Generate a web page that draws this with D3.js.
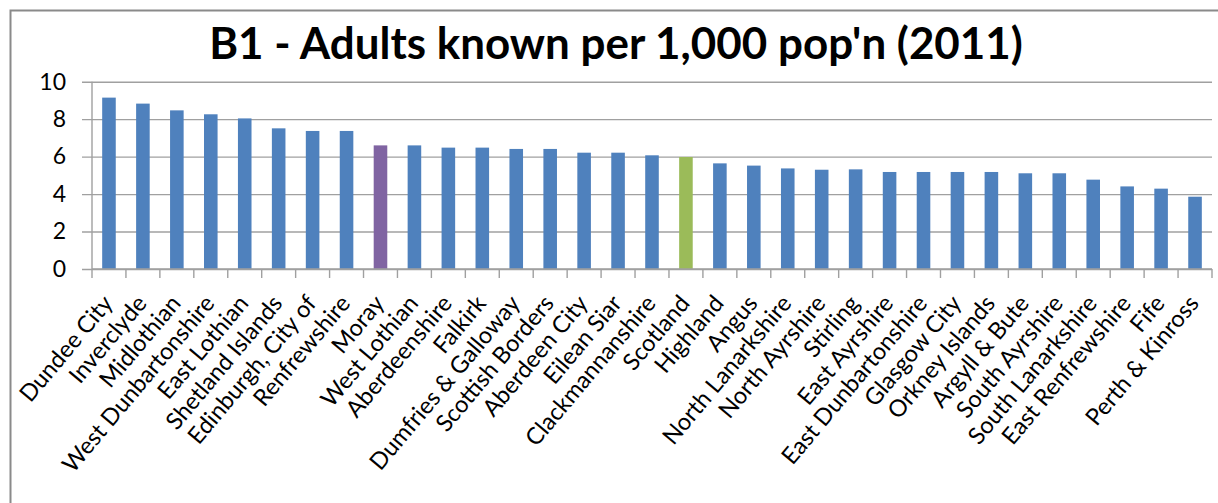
<!DOCTYPE html>
<html>
<head>
<meta charset="utf-8">
<script src="https://cdn.jsdelivr.net/npm/d3@7"></script>
<style>
  html, body { margin: 0; padding: 0; background: #fff; }
  svg { display: block; }
  text { font-family: Lato, "Open Sans", sans-serif; fill: #000; }
</style>
</head>
<body>
<svg id="chart" width="1218" height="503"></svg>
<script>
// Adults known per 1,000 population, by council area (2011)
const categories = [
  "Dundee City", "Inverclyde", "Midlothian", "West Dunbartonshire", "East Lothian",
  "Shetland Islands", "Edinburgh, City of", "Renfrewshire", "Moray", "West Lothian",
  "Aberdeenshire", "Falkirk", "Dumfries & Galloway", "Scottish Borders", "Aberdeen City",
  "Eilean Siar", "Clackmannanshire", "Scotland", "Highland", "Angus",
  "North Lanarkshire", "North Ayrshire", "Stirling", "East Ayrshire", "East Dunbartonshire",
  "Glasgow City", "Orkney Islands", "Argyll & Bute", "South Ayrshire", "South Lanarkshire",
  "East Renfrewshire", "Fife", "Perth & Kinross"
];
const values = [
  9.15, 8.83, 8.47, 8.26, 8.04,
  7.51, 7.37, 7.37, 6.60, 6.60,
  6.48, 6.48, 6.41, 6.41, 6.21,
  6.21, 6.07, 5.98, 5.64, 5.52,
  5.37, 5.30, 5.32, 5.18, 5.18,
  5.18, 5.18, 5.11, 5.11, 4.77,
  4.41, 4.29, 3.86
];
const yTicks = [0, 2, 4, 6, 8, 10];
const highlight = { "Moray": "#8064a2", "Scotland": "#9bbb59" };
const baseColor = "#4f81bd";
const titleText = "B1 - Adults known per 1,000 pop'n (2011)";

const svg = d3.select("#chart");
const W = 1218, H = 503;
const plot = { left: 92, right: 1212, top: 81.7, bottom: 269 };

svg.append("rect").attr("width", W).attr("height", H).attr("fill", "#fff");

// chart area frame
svg.append("rect")
  .attr("x", 10.5).attr("y", 10.5)
  .attr("width", 1240).attr("height", 540)
  .attr("fill", "none").attr("stroke", "#8a8a8a").attr("stroke-width", 2);

const x = d3.scaleBand()
  .domain(categories)
  .range([plot.left, plot.right])
  .paddingInner(0.6)
  .paddingOuter(0.3);

const y = d3.scaleLinear()
  .domain([0, 10])
  .range([plot.bottom, plot.top]);

// horizontal gridlines + value labels
const yAxis = d3.axisLeft(y)
  .tickValues(yTicks)
  .tickSize(0)
  .tickFormat(d3.format("d"));

const gy = svg.append("g")
  .attr("transform", `translate(${plot.left},0)`)
  .call(yAxis);
gy.select(".domain").remove();
gy.selectAll(".tick line")
  .attr("x1", -10)
  .attr("x2", plot.right - plot.left)
  .attr("stroke", "#a0a0a0").attr("stroke-width", 1.4);
gy.selectAll(".tick text")
  .attr("x", -26)
  .attr("font-size", 23)
  .attr("fill", "#000")
  .style("font-family", "Lato, sans-serif");

// vertical axis line
svg.append("line")
  .attr("x1", plot.left).attr("x2", plot.left)
  .attr("y1", plot.top).attr("y2", plot.bottom)
  .attr("stroke", "#a0a0a0").attr("stroke-width", 1.4);

// bars
svg.append("g").selectAll("rect")
  .data(categories)
  .join("rect")
  .attr("x", d => x(d))
  .attr("width", x.bandwidth())
  .attr("y", (d, i) => y(values[i]))
  .attr("height", (d, i) => y(0) - y(values[i]))
  .attr("fill", d => highlight[d] || baseColor);

// category axis: baseline + boundary ticks
const step = x.step();
svg.append("line")
  .attr("x1", plot.left).attr("x2", plot.right)
  .attr("y1", plot.bottom).attr("y2", plot.bottom)
  .attr("stroke", "#a0a0a0").attr("stroke-width", 1.4);
svg.append("g").selectAll("line")
  .data(d3.range(categories.length + 1))
  .join("line")
  .attr("x1", i => plot.left + i * step)
  .attr("x2", i => plot.left + i * step)
  .attr("y1", plot.bottom).attr("y2", plot.bottom + 9)
  .attr("stroke", "#a0a0a0").attr("stroke-width", 1.4);

// rotated category labels; size chosen so the longest name runs ~222px
const probe = svg.append("text").attr("font-size", 24).text("West Dunbartonshire");
const labelSize = 24 * 222 / probe.node().getComputedTextLength();
probe.remove();

svg.append("g").selectAll("text")
  .data(categories)
  .join("text")
  .attr("text-anchor", "end")
  .attr("font-size", labelSize)
  .attr("transform", d => {
    const cx = x(d) + x.bandwidth() / 2 + 5;
    return `translate(${cx},${plot.bottom + 35}) rotate(-50)`;
  })
  .text(d => d);

// title, sized to span its full width
const title = svg.append("text")
  .attr("x", 616).attr("y", 59)
  .attr("text-anchor", "middle")
  .attr("font-size", 40)
  .attr("font-weight", "bold")
  .text(titleText);
const tw = title.node().getComputedTextLength();
title.attr("font-size", 40 * 814 / tw);
</script>
</body>
</html>
